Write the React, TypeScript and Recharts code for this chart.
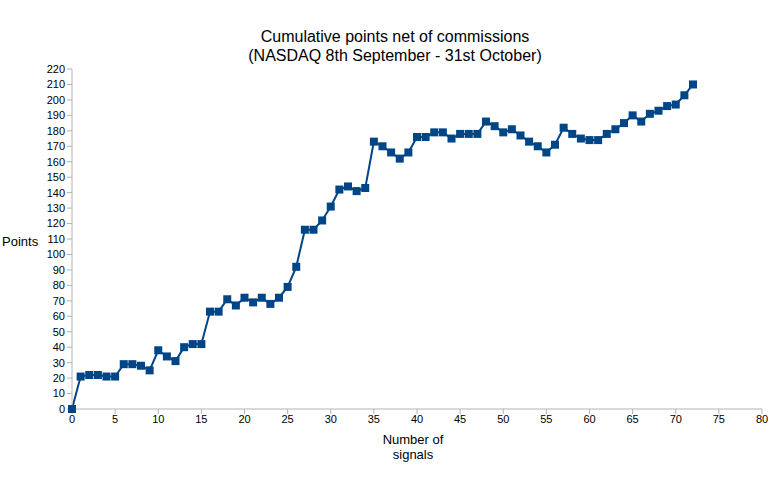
import React from 'react';
import { LineChart, Line, XAxis, YAxis } from 'recharts';

const points = [
  0, 21, 22, 22, 21, 21, 29, 29, 28, 25,
  38, 34, 31, 40, 42, 42, 63, 63, 71, 67,
  72, 69, 72, 68, 72, 79, 92, 116, 116, 122,
  131, 142, 144, 141, 143, 173, 170, 166, 162, 166,
  176, 176, 179, 179, 175, 178, 178, 178, 186, 183,
  179, 181, 177, 173, 170, 166, 171, 182, 178, 175,
  174, 174, 178, 181, 185, 190, 186, 191, 193, 196,
  197, 203, 210,
];
const xTicks = [0, 5, 10, 15, 20, 25, 30, 35, 40, 45, 50, 55, 60, 65, 70, 75, 80];
const yTicks = [0, 10, 20, 30, 40, 50, 60, 70, 80, 90, 100, 110, 120, 130, 140, 150, 160, 170, 180, 190, 200, 210, 220];

const data = points.map((v, i) => ({ signal: i, points: v }));

const FONT = '"Liberation Sans", Arial, sans-serif';
const BLUE = '#004586';

const SquareDot = (props: any) => {
  const { cx, cy } = props;
  if (cx == null || cy == null) return null;
  return <rect x={cx - 4} y={cy - 4} width={8} height={8} fill={BLUE} />;
};

const App = () => {
  const tick = { fontSize: 11, fill: '#000', fontFamily: FONT };
  return (
    <div style={{ position: 'absolute', left: 0, top: 0, width: 768, height: 480, fontFamily: FONT, background: '#fff' }}>
      <div style={{ position: 'absolute', left: 195, width: 400, top: 27, textAlign: 'center', fontSize: 16, lineHeight: '19px', color: '#000' }}>
        Cumulative points net of commissions
        <br />
        (NASDAQ 8th September - 31st October)
      </div>
      <div style={{ position: 'absolute', left: 2, top: 234, fontSize: 13, color: '#000' }}>Points</div>
      <div style={{ position: 'absolute', left: 363, width: 100, top: 432, textAlign: 'center', fontSize: 13, lineHeight: '15px', color: '#000' }}>
        Number of
        <br />
        signals
      </div>
      <LineChart width={768} height={480} data={data} margin={{ top: 69, right: 6, bottom: 0, left: 32 }}>
        <XAxis
          dataKey="signal"
          type="number"
          domain={[0, 80]}
          ticks={xTicks}
          interval={0}
          tick={tick}
          tickSize={5}
          tickMargin={1}
          height={71}
          stroke="#b3b3b3"
        />
        <XAxis xAxisId="top" dataKey="signal" type="number" domain={[0, 80]} orientation="top" tick={false} tickLine={false} height={0} stroke="#b3b3b3" />
        <YAxis
          type="number"
          domain={[0, 220]}
          ticks={yTicks}
          interval={0}
          tick={tick}
          tickSize={5}
          tickMargin={2}
          width={40}
          stroke="#b3b3b3"
        />
        <YAxis yAxisId="right" type="number" domain={[0, 220]} orientation="right" tick={false} tickLine={false} width={0} stroke="#b3b3b3" />
        <Line
          type="linear"
          dataKey="points"
          stroke={BLUE}
          strokeWidth={2}
          dot={<SquareDot />}
          activeDot={false}
          isAnimationActive={false}
        />
      </LineChart>
    </div>
  );
};

export default App;
